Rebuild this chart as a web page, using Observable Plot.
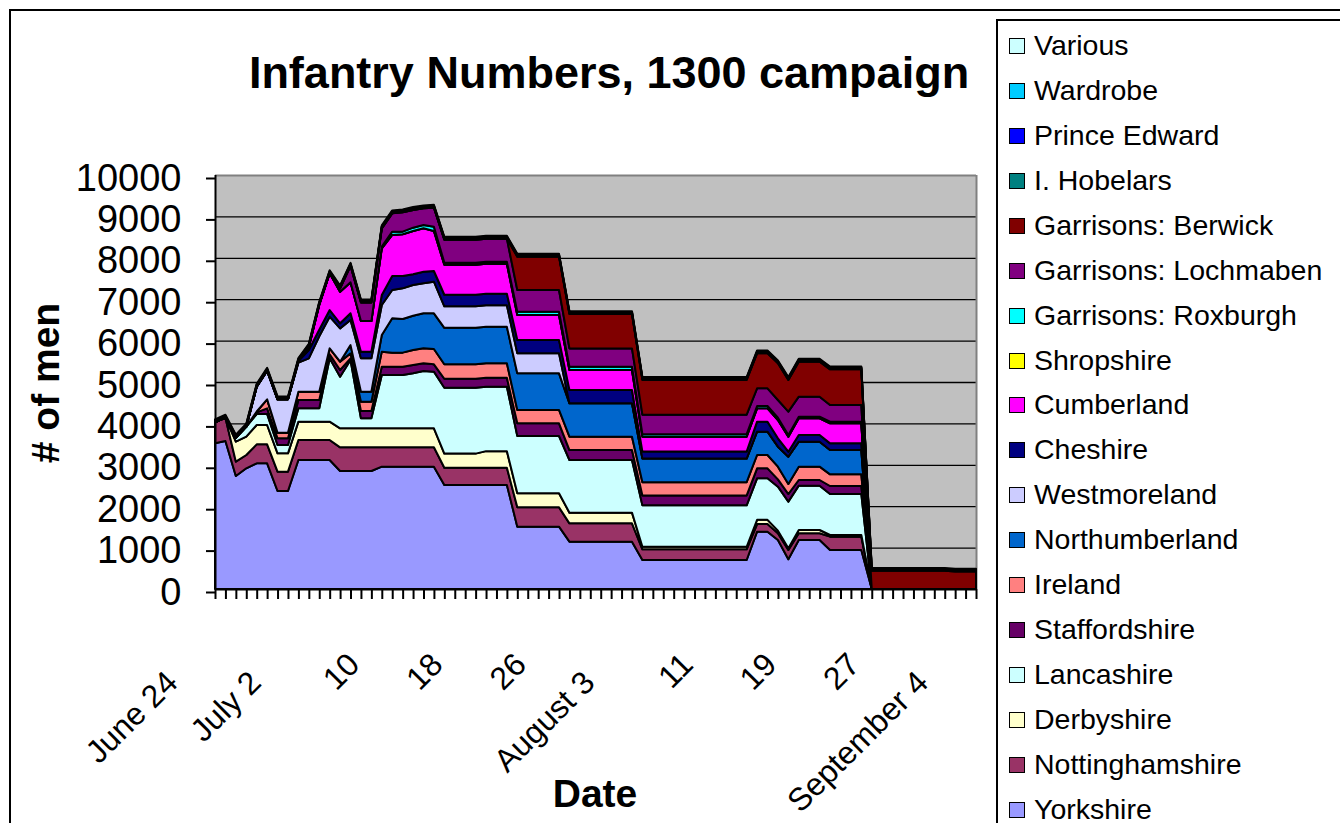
<!DOCTYPE html>
<html>
<head>
<meta charset="utf-8">
<script src="https://cdn.jsdelivr.net/npm/d3@7"></script>
<script src="https://cdn.jsdelivr.net/npm/@observablehq/plot@0.6"></script>
<style>
  html, body { margin: 0; padding: 0; background: #fff; }
  body { font-family: Arial, "Liberation Sans", Helvetica, sans-serif; color: #000; }
  #page { position: relative; width: 1340px; height: 823px; overflow: hidden; background: #fff; }
  #outer { position: absolute; left: 9px; top: 9px; width: 1400px; height: 900px; border: 2px solid #000; }
  #chart { position: absolute; left: 0; top: 0; }
  .ttl { position: absolute; font-weight: bold; white-space: nowrap; line-height: 1; }
  #legend { position: absolute; left: 996px; top: 19px; width: 400px; height: 900px; border: 2px solid #000; background: #fff; }
  .item { position: absolute; left: 1034px; font-size: 28.5px; line-height: 28px; white-space: nowrap; }
  .sw { position: absolute; left: 1009px; width: 14px; height: 14px; border: 1.5px solid #000; }
</style>
</head>
<body>
<div id="page">
  <div id="outer"></div>
  <div id="chart"></div>
  <div class="ttl" id="title" style="left:609px; top:50px; font-size:45px; transform:translateX(-50%);">Infantry Numbers, 1300 campaign</div>
  <div class="ttl" id="ylab" style="left:45px; top:383px; font-size:39px; transform:translate(-50%,-50%) rotate(-90deg);"># of men</div>
  <div class="ttl" id="xlab" style="left:595px; top:774px; font-size:39px; transform:translateX(-50%);">Date</div>
  <div id="legend"></div>
</div>
<script>
// Series, bottom of the stack first
const seriesNames = ["Yorkshire","Nottinghamshire","Derbyshire","Lancashire","Staffordshire","Ireland",
  "Northumberland","Westmoreland","Cheshire","Cumberland","Shropshire","Garrisons: Roxburgh",
  "Garrisons: Lochmaben","Garrisons: Berwick","I. Hobelars","Prince Edward","Wardrobe","Various"];
const seriesColors = ["#9999FF","#993366","#FFFFCC","#CCFFFF","#660066","#FF8080",
  "#0066CC","#CCCCFF","#000080","#FF00FF","#FFFF00","#00FFFF",
  "#800080","#800000","#008080","#0000FF","#00CCFF","#CCFFFF"];

// Daily values, June 24 .. September 5 (74 days)
const yorkshire = [3520,3575,2730,2915,3035,3035,2367,2367,3116,3116,
  3116,3116,2850,2850,2850,2850,2955,2955,2955,2955,
  2955,2955,2510,2510,2510,2510,2510,2510,2510,1506,
  1506,1506,1506,1506,1143,1143,1143,1143,1143,1143,
  1143,700,700,700,700,700,700,700,700,700,
  700,700,1385,1385,1184,717,1184,1184,1184,942,
  942,942,942,0,0,0,0,0,0,0,
  0,0,0,0];
const nottinghamshire = [507,563,347,322,459,459,467,467,483,483,
  483,483,572,572,572,572,467,467,467,467,
  467,467,420,420,420,420,420,420,420,467,
  467,467,467,467,443,443,443,443,443,443,
  443,260,260,260,260,260,260,260,260,260,
  260,260,185,185,161,225,161,161,161,322,
  322,322,322,0,0,0,0,0,0,0,
  0,0,0,0];
const derbyshire = [0,0,483,443,467,467,443,443,443,443,
  443,443,459,459,459,459,459,459,459,459,
  459,459,340,340,340,340,400,400,400,338,
  338,338,338,338,258,258,258,258,258,258,
  258,60,60,60,60,60,60,60,60,60,
  60,60,100,100,64,40,80,80,80,40,
  40,40,40,0,0,0,0,0,0,0,
  0,0,0,0];
const lancashire = [0,0,96,241,266,266,201,201,322,322,
  322,1530,1248,1650,241,241,1288,1288,1288,1328,
  1385,1369,1593,1593,1593,1593,1557,1557,1557,1385,
  1385,1385,1385,1385,1272,1272,1272,1272,1272,1272,
  1272,1000,1000,1000,1000,1000,1000,1000,1000,1000,
  1000,1000,1003,1003,1063,1128,1071,1071,1071,991,
  991,991,991,0,0,0,0,0,0,0,
  0,0,0,0];
const staffordshire = [0,0,0,0,40,137,161,161,201,201,
  201,96,161,40,177,177,201,201,201,202,
  185,177,215,215,215,215,215,215,215,306,
  306,306,306,306,241,241,241,241,241,241,
  241,240,240,240,240,240,240,240,240,240,
  240,240,242,242,177,185,137,137,137,193,
  193,193,193,0,0,0,0,0,0,0,
  0,0,0,0];
const ireland = [0,0,0,0,20,217,137,137,202,202,
  202,145,201,120,225,225,363,339,339,362,
  362,370,350,350,350,350,350,350,350,322,
  322,322,322,322,322,322,322,322,322,322,
  322,320,320,320,320,320,320,320,320,320,
  320,320,322,322,306,241,322,322,322,282,
  282,282,282,0,0,0,0,0,0,0,
  0,0,0,0];
const northumberland = [0,0,0,0,0,0,0,0,0,0,
  0,0,0,200,241,241,402,829,813,829,
  846,862,880,880,880,880,880,880,880,885,
  885,885,885,885,805,805,805,805,805,805,
  805,570,570,570,570,570,570,570,570,570,
  570,570,563,563,483,660,604,604,604,587,
  587,587,587,0,0,0,0,0,0,0,
  0,0,0,0];
const westmoreland = [0,0,0,0,600,690,805,805,700,805,
  1336,765,805,607,806,806,725,684,740,741,
  724,765,520,520,520,520,520,520,520,483,
  483,483,483,483,0,0,0,0,0,0,
  0,0,0,0,0,0,0,0,0,0,
  0,0,0,0,0,0,0,0,0,0,
  0,0,0,0,0,0,0,0,0,0,
  0,0,0,0];
const cheshire = [0,0,0,0,0,0,0,0,40,201,
  161,161,121,161,161,161,241,338,298,258,
  282,257,280,280,280,280,280,280,280,322,
  322,322,322,322,322,322,322,322,322,322,
  322,170,170,170,170,170,170,170,170,170,
  170,170,242,242,201,121,161,161,161,161,
  161,161,161,0,0,0,0,0,0,0,
  0,0,0,0];
const cumberland = [0,0,0,0,0,0,0,0,0,80,
  604,890,765,748,740,740,1128,991,1007,1046,
  1047,966,725,725,725,725,725,725,725,604,
  604,604,604,604,483,483,483,483,483,483,
  483,360,360,360,360,360,360,360,360,360,
  360,360,322,322,443,363,402,402,402,484,
  484,484,484,0,0,0,0,0,0,0,
  0,0,0,0];
const shropshire = [0,0,0,0,0,0,0,0,0,0,
  0,0,0,0,0,0,0,0,0,0,
  0,0,0,0,0,0,0,0,0,0,
  0,0,0,0,0,0,0,0,0,0,
  0,0,0,0,0,0,0,0,0,0,
  0,0,0,0,0,0,0,0,0,0,
  0,0,0,0,0,0,0,0,0,0,
  0,0,0,0];
const roxburgh = [0,0,0,0,0,0,0,0,0,0,
  0,0,0,0,0,0,40,80,64,81,
  80,105,50,50,50,50,50,50,50,81,
  81,81,81,81,80,80,80,80,80,80,
  80,60,60,60,60,60,60,60,60,60,
  60,60,56,56,56,40,41,41,41,40,
  40,40,40,0,0,0,0,0,0,0,
  0,0,0,0];
const lochmaben = [0,0,0,0,0,0,0,0,0,0,
  0,0,80,400,451,451,443,443,467,427,
  403,459,555,555,555,555,555,555,555,523,
  523,523,523,523,443,443,443,443,443,443,
  443,470,470,470,470,470,470,470,470,470,
  470,470,427,427,427,563,483,483,483,402,
  402,402,402,0,0,0,0,0,0,0,
  0,0,0,0];
const berwick = [0,0,0,0,0,0,0,0,0,0,
  0,0,0,0,0,0,0,0,0,0,
  0,0,0,0,0,0,0,0,0,805,
  805,805,805,805,829,829,829,829,829,829,
  829,840,840,840,840,840,840,840,840,840,
  840,840,845,845,886,765,845,845,845,862,
  862,862,862,440,440,440,440,440,440,440,
  440,420,420,420];
const hobelars = [20,20,20,20,20,20,20,20,20,20,
  20,20,20,20,20,20,20,20,20,20,
  20,20,20,20,20,20,20,20,20,20,
  20,20,20,20,20,20,20,20,20,20,
  20,20,20,20,20,20,20,20,20,20,
  20,20,20,20,20,20,20,20,20,20,
  20,20,20,20,20,20,20,20,20,20,
  20,20,20,20];
const princeEdward = [20,20,20,20,20,20,20,20,20,20,
  20,20,20,20,20,20,20,20,20,20,
  20,20,20,20,20,20,20,20,20,20,
  20,20,20,20,20,20,20,20,20,20,
  20,20,20,20,20,20,20,20,20,20,
  20,20,20,20,20,20,20,20,20,20,
  20,20,20,20,20,20,20,20,20,20,
  20,20,20,20];
const wardrobe = [10,10,10,10,10,10,10,10,10,10,
  10,10,10,10,10,10,10,10,10,10,
  10,10,10,10,10,10,10,10,10,10,
  10,10,10,10,10,10,10,10,10,10,
  10,10,10,10,10,10,10,10,10,10,
  10,10,10,10,10,10,10,10,10,10,
  10,10,10,10,10,10,10,10,10,10,
  10,10,10,10];
const various = [20,20,20,20,20,20,20,20,20,20,
  20,20,20,20,20,20,20,20,20,20,
  20,20,20,20,20,20,20,20,20,20,
  20,20,20,20,20,20,20,20,20,20,
  20,20,20,20,20,20,20,20,20,20,
  20,20,20,20,20,20,20,20,20,20,
  20,20,20,20,20,20,20,20,20,20,
  20,20,20,20];

const seriesValues = [yorkshire, nottinghamshire, derbyshire, lancashire, staffordshire, ireland,
  northumberland, westmoreland, cheshire, cumberland, shropshire, roxburgh,
  lochmaben, berwick, hobelars, princeEdward, wardrobe, various];

// Category axis
const dates = d3.utcDay.range(new Date(Date.UTC(1300, 5, 24)), new Date(Date.UTC(1300, 8, 6)));
const tickLabels = ["June 24","July 2","10","18","26","August 3","11","19","27","September 4"];
const yTicks = [0,1000,2000,3000,4000,5000,6000,7000,8000,9000,10000];

const labelRows = tickLabels.map((label, k) => ({date: dates[k * 8], label}));
const shortLabels = labelRows.filter(d => /^\d+$/.test(d.label));
const longLabels = labelRows.filter(d => !/^\d+$/.test(d.label));

const rows = seriesNames.flatMap((name, s) =>
  dates.map((date, i) => ({date, series: name, value: seriesValues[s][i]})));

const chart = Plot.plot({
  width: 990,
  height: 823,
  marginLeft: 215,
  marginRight: 14,
  marginTop: 175,
  marginBottom: 234,
  style: {fontFamily: "Arial, 'Liberation Sans', Helvetica, sans-serif", background: "transparent", overflow: "visible", color: "#000"},
  x: {type: "utc", domain: [dates[0], dates[dates.length - 1]]},
  y: {domain: [0, 10000]},
  color: {domain: seriesNames, range: seriesColors},
  marks: [
    Plot.frame({fill: "#C0C0C0", stroke: "none"}),
    Plot.gridY(yTicks.slice(1, -1), {stroke: "#000", strokeOpacity: 1, strokeWidth: 1.3}),
    Plot.ruleY([10000], {stroke: "#808080", strokeWidth: 2}),
    Plot.ruleX([dates[dates.length - 1]], {stroke: "#808080", strokeWidth: 2}),
    Plot.areaY(rows, {x: "date", y: "value", z: "series", fill: "series", order: seriesNames,
      stroke: "#000", strokeWidth: 2, strokeLinejoin: "round"}),
    Plot.ruleY([0], {stroke: "#000", strokeWidth: 2}),
    Plot.ruleX([dates[0]], {stroke: "#000", strokeWidth: 2}),
    Plot.axisY({ticks: yTicks, tickFormat: d => String(d), tickSize: 9, tickPadding: 25, fontSize: 38,
      strokeWidth: 2, label: null, dy: 3}),
    Plot.axisX({ticks: dates, tickSize: 10, tickFormat: () => "", strokeWidth: 2, label: null}),
    Plot.text(shortLabels, {x: "date", text: "label", frameAnchor: "bottom", rotate: -45, textAnchor: "end",
      dx: -21, dy: 77, fontSize: 32, fill: "#000"}),
    Plot.text(longLabels, {x: "date", text: "label", frameAnchor: "bottom", rotate: -45, textAnchor: "end",
      dx: -36, dy: 95, fontSize: 32, fill: "#000"})
  ]
});
document.getElementById("chart").appendChild(chart);

// Legend (top series first, as in the reference)
const page = document.getElementById("page");
seriesNames.slice().reverse().forEach((name, k) => {
  const color = seriesColors[seriesNames.indexOf(name)];
  const cy = 46.7 + k * 44.9;
  const sw = document.createElement("div");
  sw.className = "sw";
  sw.style.top = (cy - 8.5) + "px";
  sw.style.background = color;
  page.appendChild(sw);
  const t = document.createElement("div");
  t.className = "item";
  t.style.top = (cy - 15.5) + "px";
  t.textContent = name;
  page.appendChild(t);
});
</script>
</body>
</html>
